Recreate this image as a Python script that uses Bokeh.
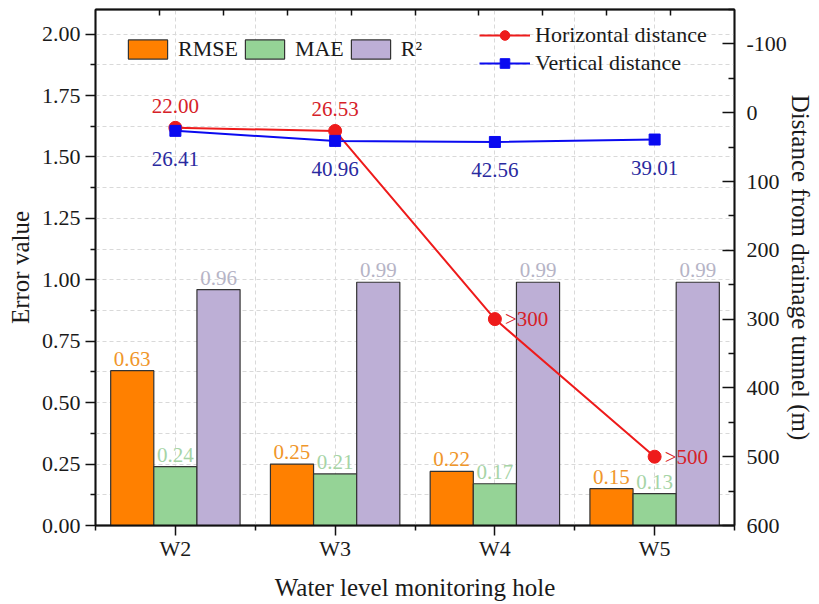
from bokeh.plotting import figure
from bokeh.models import (Range1d, LinearAxis, FixedTicker, Legend, LegendItem,
                          ColumnDataSource, NumeralTickFormatter)
from bokeh.core.properties import value
from bokeh.transform import dodge
from bokeh.embed import file_html
from bokeh.resources import INLINE

# ---------------- data ----------------
holes = ["W2", "W3", "W4", "W5"]
rmse = [0.63, 0.25, 0.22, 0.15]
mae = [0.24, 0.21, 0.17, 0.13]
r2 = [0.96, 0.99, 0.99, 0.99]
horizontal = [22.00, 26.53, 300, 500]
horizontal_text = ["22.00", "26.53", ">300", ">500"]
vertical = [26.41, 40.96, 42.56, 39.01]
vertical_text = ["26.41", "40.96", "42.56", "39.01"]
left_ticks = [0.0, 0.25, 0.5, 0.75, 1.0, 1.25, 1.5, 1.75, 2.0]
left_minor = [0.125, 0.375, 0.625, 0.875, 1.125, 1.375, 1.625, 1.875, 2.125]
right_ticks = [-100, 0, 100, 200, 300, 400, 500, 600]
right_minor = [-150, -50, 50, 150, 250, 350, 450, 550]
top_ticks = [0.9, 1.3, 1.7, 2.1, 2.5, 2.9, 3.3, 3.7, 4.1]

FONT = "Liberation Serif"
ORANGE, GREEN, PURPLE = "#FF8000", "#95D396", "#BDAFD6"
RED, BLUE = "#EE1B1B", "#0A0AF0"

xs = list(range(1, len(holes) + 1))
bars = ColumnDataSource(dict(
    x=xs, rmse=rmse, mae=mae, r2=r2,
    rmse_t=[f"{v:.2f}" for v in rmse],
    mae_t=[f"{v:.2f}" for v in mae],
    r2_t=[f"{v:.2f}" for v in r2],
))
n_above = 2  # first two horizontal-distance labels sit above, the ">" ones to the right
h_above = ColumnDataSource(dict(x=xs[:n_above], y=horizontal[:n_above], t=horizontal_text[:n_above]))
h_right = ColumnDataSource(dict(x=xs[n_above:], y=horizontal[n_above:], t=horizontal_text[n_above:]))
lines = ColumnDataSource(dict(x=xs, h=horizontal, v=vertical, vt=vertical_text))

p = figure(width=819, height=604, output_backend="svg", toolbar_location=None,
           x_range=Range1d(0.5, 4.5), y_range=Range1d(0, 2.1),
           min_border_left=95, min_border_right=85, min_border_top=9, min_border_bottom=79)
p.extra_y_ranges = {"dist": Range1d(600, -150)}
p.background_fill_color = "white"
p.border_fill_color = "white"
p.outline_line_color = "#111111"
p.outline_line_width = 1.5

# ---------------- axes ----------------
xa = p.xaxis[0]
xa.ticker = FixedTicker(ticks=xs, minor_ticks=[0.5, 1.5, 2.5, 3.5, 4.5])
xa.major_label_overrides = {x: h for x, h in zip(xs, holes)}
xa.axis_label = "Water level monitoring hole"

ya = p.yaxis[0]
ya.ticker = FixedTicker(ticks=left_ticks, minor_ticks=left_minor)
ya.formatter = NumeralTickFormatter(format="0.00")
ya.axis_label = "Error value"

ra = LinearAxis(y_range_name="dist", axis_label="Distance from drainage tunnel (m)")
ra.ticker = FixedTicker(ticks=right_ticks, minor_ticks=right_minor)
ra.major_label_overrides = {t: str(t) for t in right_ticks}
p.add_layout(ra, "right")

ta = LinearAxis()
ta.ticker = FixedTicker(ticks=[], minor_ticks=top_ticks)
ta.major_tick_in = 0
ta.major_tick_out = 0
ta.minor_tick_in = 6
ta.minor_tick_out = 0
ta.major_label_standoff = 0
p.add_layout(ta, "above")

for ax in (xa, ya, ra, ta):
    ax.axis_line_color = "#111111"
    ax.axis_line_width = 1.8
    ax.major_tick_line_color = "#111111"
    ax.minor_tick_line_color = "#111111"
    ax.major_tick_line_width = 1.5
    ax.minor_tick_line_width = 1.5
    ax.major_label_text_font = FONT
    ax.major_label_text_color = "#1a1a1a"
    ax.axis_label_text_font = FONT
    ax.axis_label_text_font_style = "normal"
    ax.axis_label_text_color = "#1a1a1a"
    ax.axis_label_text_font_size = "25px"
    ax.major_label_text_font_size = "22px"

xa.major_tick_out, xa.major_tick_in = 10, 0
xa.minor_tick_out, xa.minor_tick_in = 5, 0
xa.major_label_standoff = 0
xa.axis_label_standoff = 10

ya.major_tick_out, ya.major_tick_in = 10, 0
ya.minor_tick_out, ya.minor_tick_in = 5, 0
ya.major_label_standoff = 5
ya.axis_label_standoff = 5

ra.major_tick_out, ra.major_tick_in = 0, 12
ra.minor_tick_out, ra.minor_tick_in = 0, 6
ra.major_label_standoff = 12
ra.axis_label_standoff = -3

# ---------------- grid ----------------
for g in (p.xgrid[0], p.ygrid[0]):
    g.grid_line_color = "#d9d9d9"
    g.grid_line_dash = "4 3"
    g.grid_line_width = 1
    g.minor_grid_line_color = "#d9d9d9"
    g.minor_grid_line_dash = "4 3"
    g.minor_grid_line_width = 1

# ---------------- bars ----------------
bw = 0.27
bar_style = dict(width=bw, source=bars, line_color="#333333", line_width=1.2)
r_rmse = p.vbar(x=dodge("x", -bw), top="rmse", fill_color=ORANGE, **bar_style)
r_mae = p.vbar(x=dodge("x", 0), top="mae", fill_color=GREEN, **bar_style)
r_r2 = p.vbar(x=dodge("x", bw), top="r2", fill_color=PURPLE, **bar_style)

lab = dict(source=bars, text_align="center", text_baseline="middle", y_offset=-12,
           text_font=value(FONT), text_font_size="21px")
p.text(x=dodge("x", -bw), y="rmse", text="rmse_t", text_color="#F0962A", **lab)
p.text(x=dodge("x", 0), y="mae", text="mae_t", text_color="#A6D4A6", **lab)
p.text(x=dodge("x", bw), y="r2", text="r2_t", text_color="#B6B4C6", **lab)

# ---------------- lines ----------------
r_hl = p.line("x", "h", source=lines, y_range_name="dist", line_color=RED, line_width=2)
r_hs = p.scatter("x", "h", source=lines, y_range_name="dist", marker="circle", size=13,
                 fill_color=RED, line_color=RED)
r_vl = p.line("x", "v", source=lines, y_range_name="dist", line_color=BLUE, line_width=2)
r_vs = p.scatter("x", "v", source=lines, y_range_name="dist", marker="square", size=11,
                 fill_color=BLUE, line_color=BLUE)

txt = dict(text_font=value(FONT), text_font_size="21px", y_range_name="dist")
p.text(x="x", y="y", text="t", source=h_above, text_align="center", text_baseline="middle",
       y_offset=-22, text_color="#D62128", **txt)
p.text(x="x", y="y", text="t", source=h_right, text_align="left", text_baseline="middle",
       x_offset=10, text_color="#D62128", **txt)
p.text(x="x", y="v", text="vt", source=lines, text_align="center", text_baseline="middle",
       y_offset=28, text_color="#2A2AA0", **txt)

# ---------------- legends ----------------
leg_common = dict(padding=0, margin=0, border_line_color=None, background_fill_alpha=0,
                  label_text_font=FONT, label_text_font_size="22px",
                  label_text_color="#1a1a1a", label_height=24, glyph_height=24)
leg1 = Legend(items=[LegendItem(label="RMSE", renderers=[r_rmse]),
                     LegendItem(label="MAE", renderers=[r_mae]),
                     LegendItem(label="R²", renderers=[r_r2])],
              orientation="horizontal", location=(28, 463), glyph_width=49,
              label_standoff=6, spacing=2, **leg_common)
leg2 = Legend(items=[LegendItem(label="Horizontal distance", renderers=[r_hl, r_hs]),
                     LegendItem(label="Vertical distance", renderers=[r_vl, r_vs])],
              orientation="vertical", location=(384, 449), glyph_width=51,
              label_standoff=5, spacing=2, **leg_common)
p.add_layout(leg1)
p.add_layout(leg2)

open("out.html", "w").write(file_html(p, INLINE))
